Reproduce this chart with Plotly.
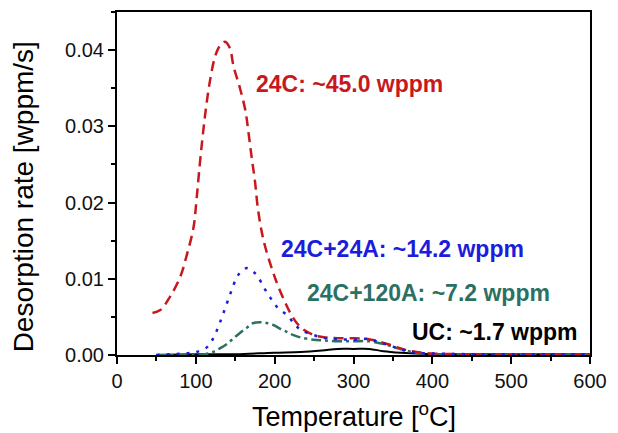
import plotly.graph_objects as go

# ---- data ----
t_24c = [45, 55, 67, 80, 89, 97, 101, 105, 109, 113, 118, 124, 130, 137, 143, 148, 156, 163, 167, 171, 175, 179, 186, 195, 203, 212, 220, 228, 237, 250, 265, 280, 300, 318, 335, 350, 365, 380, 400, 450, 500, 550, 600]
v_24c = [0.0055, 0.0059, 0.0076, 0.0102, 0.0133, 0.0167, 0.0205, 0.0250, 0.0290, 0.0325, 0.0360, 0.0390, 0.0405, 0.0411, 0.0403, 0.0378, 0.0350, 0.0320, 0.0290, 0.0258, 0.0228, 0.0190, 0.0150, 0.0118, 0.0094, 0.0072, 0.0055, 0.0042, 0.0033, 0.0026, 0.0023, 0.0022, 0.0022, 0.0021, 0.0017, 0.0012, 0.0007, 0.0004, 0.0002, 0.0001, 0.0001, 0.0001, 0.0001]

t_24a = [50, 70, 85, 95, 101, 108, 114, 120, 127, 135, 144, 152, 158, 165, 172, 178, 186, 194, 203, 216, 224, 233, 250, 265, 280, 300, 318, 335, 350, 365, 380, 400, 450, 500, 550, 600]
v_24a = [0.0000, 0.0001, 0.0002, 0.0003, 0.0004, 0.0007, 0.0010, 0.0018, 0.0033, 0.0055, 0.0081, 0.0102, 0.0110, 0.0114, 0.0110, 0.0104, 0.0089, 0.0076, 0.0063, 0.0052, 0.0042, 0.0033, 0.0026, 0.0022, 0.0021, 0.0020, 0.0021, 0.0016, 0.0011, 0.0006, 0.0003, 0.0002, 0.0001, 0.0001, 0.0001, 0.0001]

t_120a = [50, 80, 100, 112, 122, 131, 140, 148, 156, 165, 173, 182, 190, 199, 208, 216, 224, 233, 249, 262, 280, 300, 320, 340, 355, 370, 385, 400, 450, 500, 550, 600]
v_120a = [0.0000, 0.0000, 0.0000, 0.0001, 0.0004, 0.0009, 0.0015, 0.0022, 0.0029, 0.0036, 0.0042, 0.0043, 0.0042, 0.0039, 0.0034, 0.0030, 0.0026, 0.0023, 0.0020, 0.0019, 0.0018, 0.0018, 0.0018, 0.0014, 0.0009, 0.0005, 0.0002, 0.0001, 0.00005, 0.00005, 0.00005, 0.00005]

t_uc = [50, 100, 150, 199, 233, 260, 280, 300, 320, 338, 360, 380, 400, 450, 500, 550, 600]
v_uc = [0.0000, 0.0001, 0.0001, 0.0003, 0.0004, 0.0006, 0.0008, 0.0008, 0.0008, 0.0005, 0.0003, 0.0002, 0.0001, 0.0001, 0.0001, 0.0001, 0.0001]

labels = ["24C: ~45.0 wppm", "24C+24A: ~14.2 wppm", "24C+120A: ~7.2 wppm", "UC: ~1.7 wppm"]
label_x = [174, 205, 239, 372]
label_y = [0.0356, 0.0139, 0.0081, 0.0030]

RED = "#c8181e"
BLUE = "#1c1cdc"
GREEN = "#2c7064"
BLACK = "#000000"
FONT = "Liberation Sans, Arial, sans-serif"

fig = go.Figure()
fig.add_trace(go.Scatter(x=t_uc, y=v_uc, mode="lines", line=dict(color=BLACK, width=2, shape="spline"), name="UC"))
fig.add_trace(go.Scatter(x=t_120a, y=v_120a, mode="lines", line=dict(color=GREEN, width=2.5, dash="10px,4px,3px,4px", shape="spline"), name="24C+120A"))
fig.add_trace(go.Scatter(x=t_24c, y=v_24c, mode="lines", line=dict(color=RED, width=2.5, dash="10px,6px", shape="spline"), name="24C"))
fig.add_trace(go.Scatter(x=t_24a, y=v_24a, mode="lines", line=dict(color=BLUE, width=2.5, dash="3px,7px", shape="spline"), name="24C+24A"))

colors = [RED, BLUE, GREEN, BLACK]
for txt, x, y, c in zip(labels, label_x, label_y, colors):
    fig.add_annotation(x=x, y=y, xref="x", yref="y", text="<b>" + txt + "</b>", showarrow=False,
                       xanchor="left", yanchor="middle",
                       font=dict(family=FONT, size=23, color=c))

# axis titles
fig.add_annotation(x=0.5, y=-0.175, xref="paper", yref="paper", text="Temperature [<sup>o</sup>C]",
                   showarrow=False, xanchor="center", yanchor="middle",
                   font=dict(family=FONT, size=27, color="black"))
fig.add_annotation(x=-0.197, y=0.462, xref="paper", yref="paper", text="Desorption rate [wppm/s]",
                   showarrow=False, xanchor="center", yanchor="middle", textangle=-90,
                   font=dict(family=FONT, size=28, color="black"))

axis_common = dict(showline=True, linecolor="black", linewidth=2, mirror=True, showgrid=False, zeroline=False,
                   ticks="outside", ticklen=7, tickwidth=1.5, tickcolor="black",
                   tickfont=dict(family=FONT, size=20, color="#111"))

fig.update_xaxes(range=[0, 600], tickmode="array", tickvals=[0, 100, 200, 300, 400, 500, 600],
                 minor=dict(ticks="outside", ticklen=4, tickwidth=1.5, tickcolor="black", dtick=50, tick0=0, showgrid=False),
                 **axis_common)
fig.update_yaxes(range=[0, 0.045], tickmode="array", tickvals=[0, 0.01, 0.02, 0.03, 0.04],
                 ticktext=["0.00", "0.01", "0.02", "0.03", "0.04"],
                 minor=dict(ticks="outside", ticklen=4, tickwidth=1.5, tickcolor="black", dtick=0.005, tick0=0, showgrid=False),
                 **axis_common)

fig.update_layout(width=610, height=425, margin=dict(l=109, r=28, t=2, b=78),
                  paper_bgcolor="white", plot_bgcolor="white", showlegend=False)

fig.write_html("out.html")
